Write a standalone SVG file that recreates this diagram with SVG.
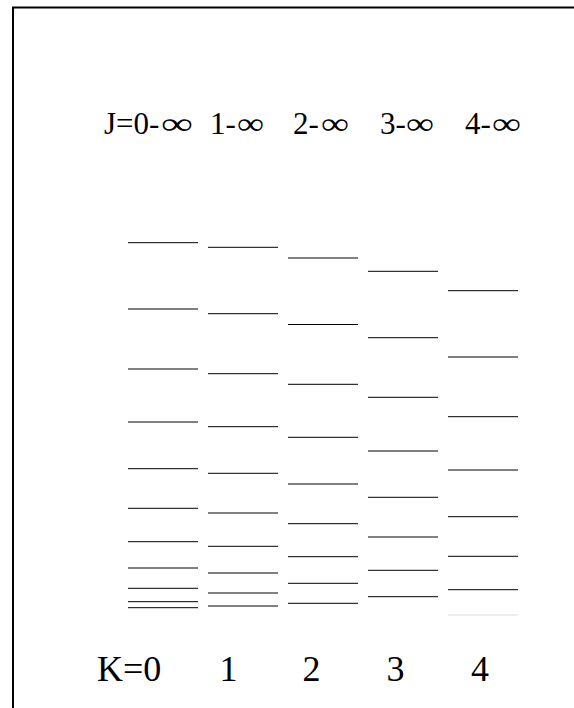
<svg xmlns="http://www.w3.org/2000/svg" width="574" height="708" viewBox="0 0 574 708">
<style>
.lv{stroke:#000;stroke-width:1;fill:none}
.frame{stroke:#000;stroke-width:2;fill:none}
.j{font-family:"Liberation Serif","Times New Roman",serif;font-size:31px;fill:#000}
.k{font-family:"Liberation Serif","Times New Roman",serif;font-size:36px;fill:#000}
</style>
<rect width="574" height="708" fill="#fff"/>
<path class="frame" d="M13,708 V7.5 H574"/>
<g id="header">
<text class="j" x="104" y="134">J=0-</text>
<text class="j" x="161" y="134" textLength="32" lengthAdjust="spacingAndGlyphs">∞</text>
<text class="j" x="210" y="134">1-</text>
<text class="j" x="237" y="134" textLength="27" lengthAdjust="spacingAndGlyphs">∞</text>
<text class="j" x="293" y="134">2-</text>
<text class="j" x="321" y="134" textLength="28" lengthAdjust="spacingAndGlyphs">∞</text>
<text class="j" x="380" y="134">3-</text>
<text class="j" x="406" y="134" textLength="28" lengthAdjust="spacingAndGlyphs">∞</text>
<text class="j" x="465" y="134">4-</text>
<text class="j" x="492" y="134" textLength="29" lengthAdjust="spacingAndGlyphs">∞</text>
</g>
<g id="K0">
<path class="lv" d="M128,242.7h70M128,309h70M128,369h70M128,422h70M128,468.7h70M128,508.3h70M128,541.7h70M128,568h70M128,588.3h70M128,601.7h70M128,607.7h70"/>
</g>
<g id="K1">
<path class="lv" d="M208,247.3h70M208,313.7h70M208,373.7h70M208,426.7h70M208,473.3h70M208,513h70M208,546.3h70M208,573h70M208,593h70M208,606h70"/>
</g>
<g id="K2">
<path class="lv" d="M288,258h70M288,324.5h70M288,384.3h70M288,437.3h70M288,484h70M288,523.7h70M288,556.7h70M288,583.3h70M288,603.3h70"/>
</g>
<g id="K3">
<path class="lv" d="M368,271.3h70M368,337.7h70M368,397.3h70M368,451h70M368,497.3h70M368,537h70M368,570.3h70M368,596.7h70"/>
</g>
<g id="K4">
<path class="lv" d="M448,290.7h70M448,357h70M448,416.7h70M448,470h70M448,516.7h70M448,556.3h70M448,589.7h70"/>
<path d="M448,615h70" stroke="#ddd" stroke-width="1"/>
</g>
<g id="footer">
<text class="k" x="97" y="681">K=0</text>
<text class="k" x="228.5" y="681" text-anchor="middle">1</text>
<text class="k" x="311.5" y="681" text-anchor="middle">2</text>
<text class="k" x="395.5" y="681" text-anchor="middle">3</text>
<text class="k" x="480" y="681" text-anchor="middle">4</text>
</g>
</svg>
